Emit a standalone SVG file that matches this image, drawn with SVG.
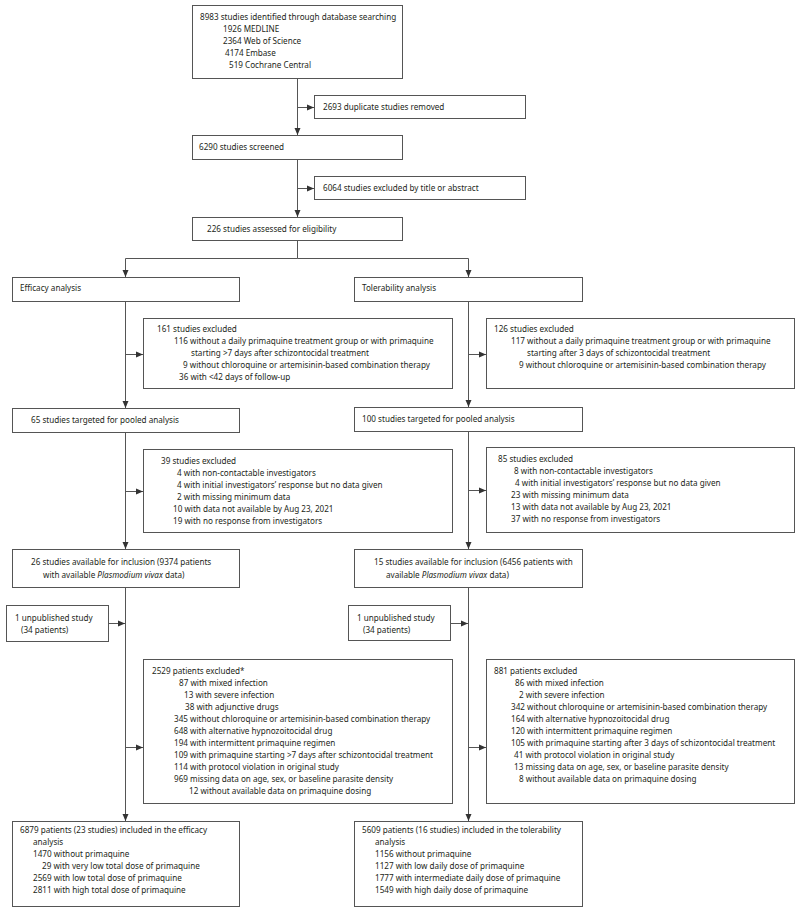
<svg xmlns="http://www.w3.org/2000/svg" width="800" height="911" viewBox="0 0 800 911">
<style>
.b{fill:#fff;stroke:#555;stroke-width:1}
.c{fill:none;stroke:#555;stroke-width:1}
text{font-family:"Noto Sans","Liberation Sans",sans-serif;font-size:8.15px;fill:#231f20}
.i{font-style:italic}
</style>
<defs>
<marker id="ah" markerUnits="userSpaceOnUse" markerWidth="7" markerHeight="7" viewBox="0 0 7 7" refX="7" refY="3.5" orient="auto">
<path d="M0,0.5 L7,3.5 L0,6.5 z" fill="#333"/>
</marker>
</defs>
<rect width="800" height="911" fill="#fff"/>
<g id="connectors">
<path class="c" d="M297.5,78.5 V135" marker-end="url(#ah)"/>
<path class="c" d="M297.5,107.5 H314" marker-end="url(#ah)"/>
<path class="c" d="M297.5,159.5 V217" marker-end="url(#ah)"/>
<path class="c" d="M297.5,188.5 H314" marker-end="url(#ah)"/>
<path class="c" d="M297.5,240.5 V258.5"/>
<path class="c" d="M297.5,258.5 H125.5 V277" marker-end="url(#ah)"/>
<path class="c" d="M297.5,258.5 H468.5 V277" marker-end="url(#ah)"/>
<path class="c" d="M125.5,301.5 V408" marker-end="url(#ah)"/>
<path class="c" d="M125.5,354.5 H143" marker-end="url(#ah)"/>
<path class="c" d="M468.5,301.5 V407" marker-end="url(#ah)"/>
<path class="c" d="M468.5,354.5 H486" marker-end="url(#ah)"/>
<path class="c" d="M125.5,432.5 V549" marker-end="url(#ah)"/>
<path class="c" d="M125.5,491.5 H143" marker-end="url(#ah)"/>
<path class="c" d="M468.5,431.5 V549" marker-end="url(#ah)"/>
<path class="c" d="M468.5,490.5 H486" marker-end="url(#ah)"/>
<path class="c" d="M125.5,587.5 V821" marker-end="url(#ah)"/>
<path class="c" d="M125.5,747.5 H143" marker-end="url(#ah)"/>
<path class="c" d="M108.5,623.5 H125" marker-end="url(#ah)"/>
<path class="c" d="M468.5,587.5 V821" marker-end="url(#ah)"/>
<path class="c" d="M468.5,747.5 H486" marker-end="url(#ah)"/>
<path class="c" d="M450.5,623.5 H468" marker-end="url(#ah)"/>
</g>
<g id="identified">
<rect class="b" x="192.5" y="5.5" width="210" height="73"/>
<text><tspan x="200" y="20">8983 studies identified through database searching</tspan><tspan x="223" y="32">1926 MEDLINE</tspan><tspan x="223" y="44">2364 Web of Science</tspan><tspan x="225" y="56">4174 Embase</tspan><tspan x="229" y="68">519 Cochrane Central</tspan></text>
</g>
<g id="duplicates">
<rect class="b" x="314.5" y="95.5" width="211" height="23"/>
<text x="323" y="110">2693 duplicate studies removed</text>
</g>
<g id="screened">
<rect class="b" x="192.5" y="135.5" width="210" height="24"/>
<text x="199" y="150">6290 studies screened</text>
</g>
<g id="excluded-title">
<rect class="b" x="314.5" y="176.5" width="211" height="23"/>
<text x="323" y="191">6064 studies excluded by title or abstract</text>
</g>
<g id="eligibility">
<rect class="b" x="192.5" y="217.5" width="210" height="23"/>
<text x="207" y="232">226 studies assessed for eligibility</text>
</g>
<g id="efficacy">
<rect class="b" x="12.5" y="277.5" width="227" height="24"/>
<text x="20" y="291">Efficacy analysis</text>
</g>
<g id="tolerability">
<rect class="b" x="354.5" y="277.5" width="228" height="24"/>
<text x="362" y="291">Tolerability analysis</text>
</g>
<g id="eff-excl1">
<rect class="b" x="143.5" y="318.5" width="309" height="70"/>
<text><tspan x="157" y="332">161 studies excluded</tspan><tspan x="174" y="344">116 without a daily primaquine treatment group or with primaquine</tspan><tspan x="191" y="356">starting &gt;7 days after schizontocidal treatment</tspan><tspan x="183" y="368">9 without chloroquine or artemisinin-based combination therapy</tspan><tspan x="179" y="380">36 with &lt;42 days of follow-up</tspan></text>
</g>
<g id="tol-excl1">
<rect class="b" x="486.5" y="318.5" width="308" height="70"/>
<text><tspan x="494" y="332">126 studies excluded</tspan><tspan x="511" y="344">117 without a daily primaquine treatment group or with primaquine</tspan><tspan x="527" y="356">starting after 3 days of schizontocidal treatment</tspan><tspan x="519" y="368">9 without chloroquine or artemisinin-based combination therapy</tspan></text>
</g>
<g id="eff-targeted">
<rect class="b" x="12.5" y="408.5" width="227" height="24"/>
<text x="31" y="423">65 studies targeted for pooled analysis</text>
</g>
<g id="tol-targeted">
<rect class="b" x="354.5" y="407.5" width="228" height="24"/>
<text x="362" y="422">100 studies targeted for pooled analysis</text>
</g>
<g id="eff-excl2">
<rect class="b" x="143.5" y="449.5" width="309" height="83"/>
<text><tspan x="161" y="464">39 studies excluded</tspan><tspan x="177" y="476">4 with non-contactable investigators</tspan><tspan x="177" y="488">4 with initial investigators’ response but no data given</tspan><tspan x="177" y="500">2 with missing minimum data</tspan><tspan x="173" y="512">10 with data not available by Aug 23, 2021</tspan><tspan x="173" y="524">19 with no response from investigators</tspan></text>
</g>
<g id="tol-excl2">
<rect class="b" x="486.5" y="447.5" width="308" height="85"/>
<text><tspan x="498" y="462">85 studies excluded</tspan><tspan x="514" y="474">8 with non-contactable investigators</tspan><tspan x="515" y="486">4 with initial investigators’ response but no data given</tspan><tspan x="511" y="498">23 with missing minimum data</tspan><tspan x="511" y="510">13 with data not available by Aug 23, 2021</tspan><tspan x="511" y="522">37 with no response from investigators</tspan></text>
</g>
<g id="eff-available">
<rect class="b" x="12.5" y="549.5" width="227" height="38"/>
<text><tspan x="31" y="565">26 studies available for inclusion (9374 patients</tspan><tspan x="43" y="578">with available <tspan class="i">Plasmodium vivax</tspan> data)</tspan></text>
</g>
<g id="tol-available">
<rect class="b" x="354.5" y="549.5" width="228" height="38"/>
<text><tspan x="374" y="565">15 studies available for inclusion (6456 patients with</tspan><tspan x="386" y="578">available <tspan class="i">Plasmodium vivax</tspan> data)</tspan></text>
</g>
<g id="eff-unpublished">
<rect class="b" x="6.5" y="605.5" width="102" height="36"/>
<text><tspan x="15" y="621">1 unpublished study</tspan><tspan x="21" y="633">(34 patients)</tspan></text>
</g>
<g id="tol-unpublished">
<rect class="b" x="348.5" y="605.5" width="102" height="35"/>
<text><tspan x="357" y="621">1 unpublished study</tspan><tspan x="363" y="633">(34 patients)</tspan></text>
</g>
<g id="eff-excl3">
<rect class="b" x="143.5" y="659.5" width="309" height="144"/>
<text><tspan x="152" y="674">2529 patients excluded*</tspan><tspan x="179" y="686">87 with mixed infection</tspan><tspan x="184" y="698">13 with severe infection</tspan><tspan x="185" y="710">38 with adjunctive drugs</tspan><tspan x="174" y="722">345 without chloroquine or artemisinin-based combination therapy</tspan><tspan x="174" y="734">648 with alternative hypnozoitocidal drug</tspan><tspan x="174" y="746">194 with intermittent primaquine regimen</tspan><tspan x="174" y="758">109 with primaquine starting &gt;7 days after schizontocidal treatment</tspan><tspan x="174" y="770">114 with protocol violation in original study</tspan><tspan x="174" y="782">969 missing data on age, sex, or baseline parasite density</tspan><tspan x="189" y="794">12 without available data on primaquine dosing</tspan></text>
</g>
<g id="tol-excl3">
<rect class="b" x="486.5" y="659.5" width="308" height="144"/>
<text><tspan x="494" y="674">881 patients excluded</tspan><tspan x="515" y="686">86 with mixed infection</tspan><tspan x="519" y="698">2 with severe infection</tspan><tspan x="511" y="710">342 without chloroquine or artemisinin-based combination therapy</tspan><tspan x="511" y="722">164 with alternative hypnozoitocidal drug</tspan><tspan x="511" y="734">120 with intermittent primaquine regimen</tspan><tspan x="511" y="746">105 with primaquine starting after 3 days of schizontocidal treatment</tspan><tspan x="514" y="758">41 with protocol violation in original study</tspan><tspan x="514" y="770">13 missing data on age, sex, or baseline parasite density</tspan><tspan x="519" y="782">8 without available data on primaquine dosing</tspan></text>
</g>
<g id="eff-included">
<rect class="b" x="12.5" y="821.5" width="227" height="85"/>
<text><tspan x="20" y="833">6879 patients (23 studies) included in the efficacy</tspan><tspan x="33" y="845">analysis</tspan><tspan x="33" y="857">1470 without primaquine</tspan><tspan x="42" y="869">29 with very low total dose of primaquine</tspan><tspan x="33" y="881">2569 with low total dose of primaquine</tspan><tspan x="33" y="893">2811 with high total dose of primaquine</tspan></text>
</g>
<g id="tol-included">
<rect class="b" x="354.5" y="821.5" width="228" height="85"/>
<text><tspan x="362" y="833">5609 patients (16 studies) included in the tolerability</tspan><tspan x="375" y="845">analysis</tspan><tspan x="375" y="857">1156 without primaquine</tspan><tspan x="375" y="869">1127 with low daily dose of primaquine</tspan><tspan x="375" y="881">1777 with intermediate daily dose of primaquine</tspan><tspan x="375" y="893">1549 with high daily dose of primaquine</tspan></text>
</g>
</svg>
